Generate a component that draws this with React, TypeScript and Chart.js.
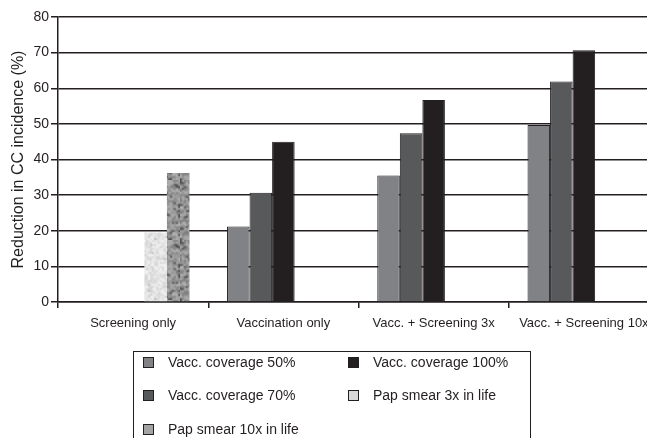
import React, { useEffect, useRef } from "react";
import { Chart, registerables } from "chart.js";
Chart.register(...registerables);

const categories = ["Screening only", "Vaccination only", "Vacc. + Screening 3x", "Vacc. + Screening 10x"];
const vacc50 = [null, 21.2, 35.5, 49.7];
const vacc70 = [null, 30.7, 47.4, 61.9];
const vacc100 = [null, 45.0, 56.7, 70.7];
const pap3x = [19.5, null, null, null];
const pap10x = [36.2, null, null, null];
const yMin = 0;
const yMax = 80;
const yStep = 10;
const yTitle = "Reduction in CC incidence (%)";

const FONT = '"Liberation Sans", Arial, Helvetica, sans-serif';
const INK = "#231f20";

function makeNoise(base: number, spread: number, dark: number): CanvasPattern | string {
  const fallback = `rgb(${base},${base},${base})`;
  const s = document.createElement("canvas");
  const n = 30;
  s.width = n;
  s.height = n;
  const sctx = s.getContext("2d");
  if (!sctx) return fallback;
  const img = sctx.createImageData(n, n);
  for (let y = 0; y < n; y++) {
    for (let x = 0; x < n; x++) {
      let h = (x * 374761393 + y * 668265263) | 0;
      h = Math.imul(h ^ (h >>> 13), 1274126177);
      h = h ^ (h >>> 16);
      const r = ((h >>> 0) % 1000) / 1000;
      let v = base + (r - 0.5) * spread;
      if (r < dark) v -= spread * 0.5;
      v = Math.max(0, Math.min(255, v));
      const i = (y * n + x) * 4;
      img.data[i] = v;
      img.data[i + 1] = v;
      img.data[i + 2] = v;
      img.data[i + 3] = 255;
    }
  }
  sctx.putImageData(img, 0, 0);
  const c = document.createElement("canvas");
  c.width = n * 2;
  c.height = n * 2;
  const ctx = c.getContext("2d");
  if (!ctx) return fallback;
  ctx.imageSmoothingEnabled = true;
  ctx.drawImage(s, 0, 0, n * 2, n * 2);
  return ctx.createPattern(c, "repeat") || fallback;
}

const legendItems = [
  { label: "Vacc. coverage 50%", color: "#818285", x: 143, y: 362 },
  { label: "Vacc. coverage 100%", color: "#231f20", x: 348, y: 362 },
  { label: "Vacc. coverage 70%", color: "#58595b", x: 143, y: 395 },
  { label: "Pap smear 3x in life", color: "#d9d9d9", x: 348, y: 395 },
  { label: "Pap smear 10x in life", color: "#a3a3a3", x: 143, y: 429 },
];

export default function App() {
  const ref = useRef<HTMLCanvasElement | null>(null);
  useEffect(() => {
    if (!ref.current) return;
    const light = makeNoise(226, 40, 0.04);
    const darkTex = makeNoise(148, 70, 0.12);
    const chart = new Chart(ref.current, {
      type: "bar",
      data: {
        labels: categories,
        datasets: [
          { label: "Vacc. coverage 50%", data: vacc50, backgroundColor: "#818285", borderColor: INK, borderWidth: 1 },
          { label: "Vacc. coverage 70%", data: vacc70, backgroundColor: "#58595b", borderColor: INK, borderWidth: 1 },
          { label: "Vacc. coverage 100%", data: vacc100, backgroundColor: "#231f20", borderColor: INK, borderWidth: 1 },
          { label: "Pap smear 3x in life", data: pap3x, backgroundColor: light as any, borderWidth: 0 },
          { label: "Pap smear 10x in life", data: pap10x, backgroundColor: darkTex as any, borderWidth: 0 },
        ],
      },
      options: {
        animation: false,
        responsive: false,
        layout: { padding: { left: 0, right: 3, top: 17, bottom: 0 } },
        plugins: { legend: { display: false }, tooltip: { enabled: false } },
        datasets: { bar: { categoryPercentage: 0.75, barPercentage: 1.0 } },
        scales: {
          x: {
            afterFit: (s: any) => { s.height = 136; },
            grid: { offset: true, drawOnChartArea: false, drawTicks: true, tickLength: 6, color: INK, lineWidth: 1.5 },
            border: { display: true, color: INK, width: 1.5 },
            ticks: { color: INK, font: { family: FONT, size: 13 }, padding: 8, maxRotation: 0, autoSkip: false },
          },
          y: {
            min: yMin,
            max: yMax,
            afterFit: (s: any) => { s.width = 58; },
            grid: { color: INK, lineWidth: 1.5, drawTicks: true, tickLength: 7 },
            border: { display: true, color: INK, width: 1.5 },
            ticks: { stepSize: yStep, color: INK, font: { family: FONT, size: 14 }, padding: 2 },
            title: { display: true, text: yTitle, color: INK, font: { family: FONT, size: 16 }, padding: { top: 9, bottom: 0 } },
          },
        },
      },
    });
    return () => chart.destroy();
  }, []);

  return (
    <div style={{ position: "fixed", left: 0, top: 0, width: 647, height: 438, overflow: "hidden", background: "#fff", fontFamily: FONT }}>
      <canvas ref={ref} width={662} height={438} style={{ position: "absolute", left: 0, top: 0, width: 662, height: 438 }} />
      <div style={{ position: "absolute", left: 133, top: 351, width: 398, height: 120, border: `1.5px solid ${INK}`, boxSizing: "border-box" }} />
      {legendItems.map((it) => (
        <div key={it.label} style={{ position: "absolute", left: it.x, top: it.y - 10, height: 20, display: "flex", alignItems: "center", whiteSpace: "nowrap" }}>
          <span style={{ display: "inline-block", width: 9, height: 9, background: it.color, border: `1px solid ${INK}`, marginRight: 14 }} />
          <span style={{ fontSize: 14, color: INK }}>{it.label}</span>
        </div>
      ))}
    </div>
  );
}
